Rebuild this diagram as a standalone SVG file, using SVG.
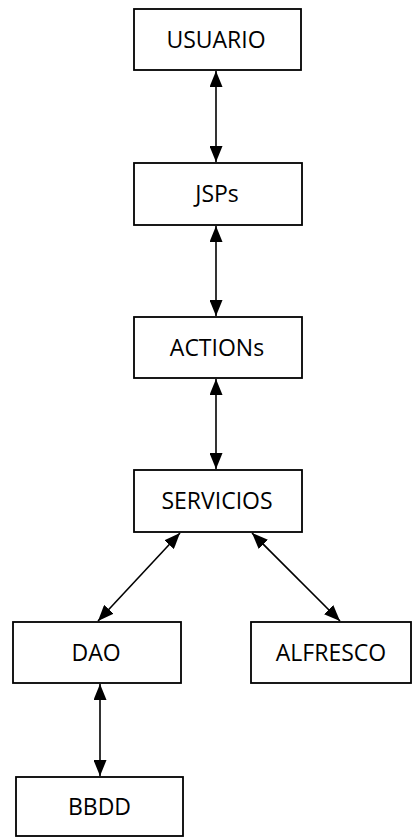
<svg xmlns="http://www.w3.org/2000/svg" width="412" height="837" viewBox="0 0 412 837">
  <style>
    .box { fill: #ffffff; stroke: #000000; stroke-width: 1.8; }
    .label { font-family: "Open Sans", "Noto Sans", "Liberation Sans", sans-serif; font-size: 23px; fill: #000000; text-anchor: middle; }
    .link { stroke: #000000; stroke-width: 1.6; fill: none; marker-start: url(#head); marker-end: url(#head); }
  </style>
  <defs>
    <marker id="head" viewBox="0 0 16 13" refX="16" refY="6.5" markerWidth="16" markerHeight="13" markerUnits="userSpaceOnUse" orient="auto-start-reverse">
      <path d="M0,0 L16,6.5 L0,13 z" fill="#000000"/>
    </marker>
  </defs>
  <rect width="412" height="837" fill="#ffffff"/>

  <g id="connectors">
    <line class="link" x1="216" y1="71" x2="216" y2="162"/>
    <line class="link" x1="216" y1="226" x2="216" y2="316"/>
    <line class="link" x1="216" y1="379" x2="216" y2="469"/>
    <line class="link" x1="180" y1="533" x2="98" y2="621"/>
    <line class="link" x1="252" y1="533" x2="340" y2="621"/>
    <line class="link" x1="100" y1="684" x2="100" y2="776"/>
  </g>

  <g id="usuario">
    <rect class="box" x="134" y="9" width="167" height="61"/>
    <text class="label" x="216" y="47.5">USUARIO</text>
  </g>
  <g id="jsps">
    <rect class="box" x="134" y="163" width="168" height="62"/>
    <text class="label" x="217" y="202">JSPs</text>
  </g>
  <g id="actions">
    <rect class="box" x="134" y="317" width="168" height="61"/>
    <text class="label" x="217" y="355.5">ACTIONs</text>
  </g>
  <g id="servicios">
    <rect class="box" x="134" y="470" width="168" height="62"/>
    <text class="label" x="217" y="509">SERVICIOS</text>
  </g>
  <g id="dao">
    <rect class="box" x="13" y="622" width="168" height="61"/>
    <text class="label" x="96" y="660.5">DAO</text>
  </g>
  <g id="alfresco">
    <rect class="box" x="251" y="622" width="160" height="61"/>
    <text class="label" x="331" y="660.5">ALFRESCO</text>
  </g>
  <g id="bbdd">
    <rect class="box" x="16" y="777" width="167" height="59"/>
    <text class="label" x="99.5" y="815">BBDD</text>
  </g>
</svg>
